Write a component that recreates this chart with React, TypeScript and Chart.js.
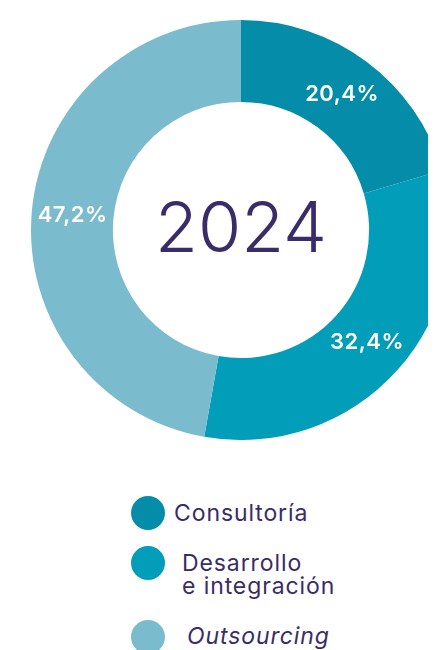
import React, { useEffect, useRef } from "react";
import { Chart, registerables } from "chart.js";

Chart.register(...registerables);

const categories = ["Consultoría", "Desarrollo\ne integración", "Outsourcing"];
const values = [20.4, 32.4, 47.2];
const valueLabels = ["20,4%", "32,4%", "47,2%"];
const colors = ["#058CA9", "#029DB8", "#7ABCCE"];
const italicFlags = [false, false, true];
const legendIndents = [9, 17, 22];
const centerTitle = "2024";

const TEXT_COLOR = "#3A2C68";
const FONT = "Inter, 'Open Sans', 'DejaVu Sans', sans-serif";

const labelsPlugin = {
  id: "customLabels",
  afterDatasetsDraw(chart: any) {
    const ctx = chart.ctx;
    const meta = chart.getDatasetMeta(0);
    ctx.save();
    ctx.fillStyle = "#FFFFFF";
    ctx.font = `600 22px ${FONT}`;
    (ctx as any).letterSpacing = "0.5px";
    ctx.textAlign = "center";
    ctx.textBaseline = "middle";
    meta.data.forEach((arc: any, i: number) => {
      const p = arc.tooltipPosition();
      ctx.fillText(valueLabels[i], p.x, p.y);
    });
    const first = meta.data[0];
    if (first) {
      ctx.fillStyle = TEXT_COLOR;
      (ctx as any).letterSpacing = "0px";
      ctx.font = `300 70px ${FONT}`;
      ctx.textBaseline = "alphabetic";
      ctx.fillText(centerTitle, first.x, first.y + 22);
    }
    ctx.restore();
  },
};

export default function App() {
  const ref = useRef<HTMLCanvasElement | null>(null);
  useEffect(() => {
    if (!ref.current) return;
    const chart = new Chart(ref.current, {
      type: "doughnut",
      data: {
        labels: categories,
        datasets: [
          {
            data: values,
            backgroundColor: colors,
            borderWidth: 0,
          },
        ],
      },
      options: {
        responsive: false,
        animation: false,
        cutout: "61%",
        layout: { padding: 0 },
        plugins: {
          legend: { display: false },
          tooltip: { enabled: false },
        },
      },
      plugins: [labelsPlugin],
    });
    return () => chart.destroy();
  }, []);

  return (
    <div
      style={{
        position: "relative",
        width: 428,
        height: 642,
        overflow: "hidden",
        fontFamily: FONT,
      }}
    >
      <div style={{ position: "absolute", left: 23, top: 12, width: 420, height: 420 }}>
        <canvas ref={ref} width={420} height={420} />
      </div>
      <div style={{ position: "absolute", left: 123, top: 488 }}>
        {categories.map((c, i) => (
          <div
            key={i}
            style={{
              display: "flex",
              alignItems: "flex-start",
              marginTop: i === 0 ? 0 : i === 1 ? 16 : 22,
            }}
          >
            <div
              style={{
                width: 34,
                height: 34,
                borderRadius: "50%",
                background: colors[i],
                flex: "0 0 auto",
              }}
            />
            <div
              style={{
                marginLeft: legendIndents[i],
                marginTop: 5.5,
                fontSize: 23,
                letterSpacing: "0.9px",
                lineHeight: "23px",
                color: TEXT_COLOR,
                fontStyle: italicFlags[i] ? "italic" : "normal",
                whiteSpace: "pre",
              }}
            >
              {c}
            </div>
          </div>
        ))}
      </div>
    </div>
  );
}
